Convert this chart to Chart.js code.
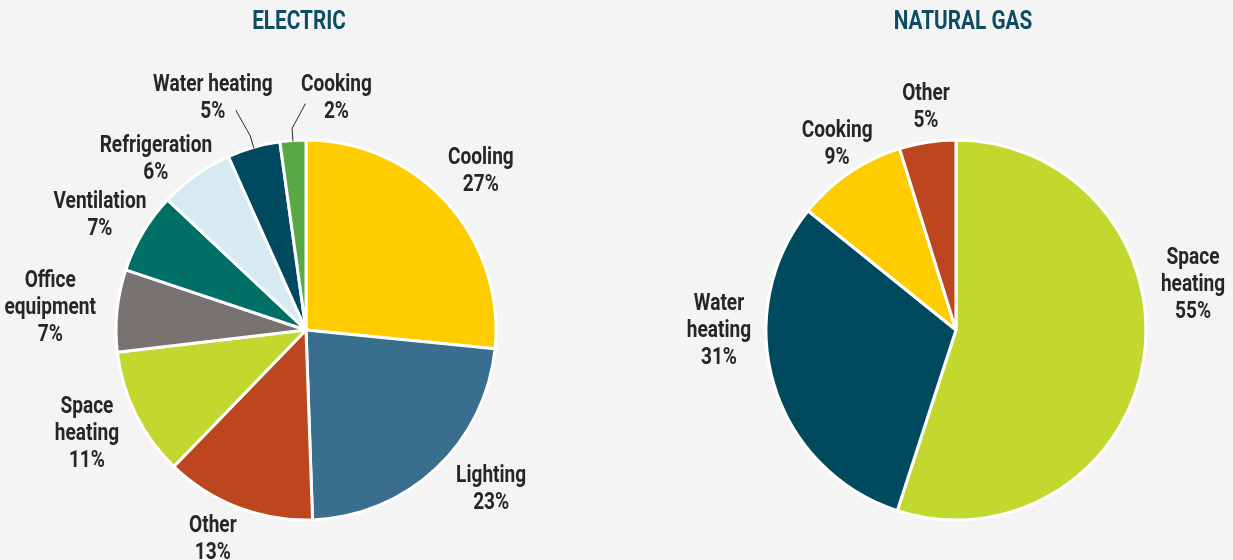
<!DOCTYPE html>
<html>
<head>
<meta charset="utf-8">
<script src="https://cdn.jsdelivr.net/npm/chart.js@4"></script>
<style>
    body { margin: 0; background: #f4f4f4; width: 1233px; height: 560px; overflow: hidden; position: relative; }
    .box { position: absolute; top: 0; height: 560px; }
</style>
</head>
<body>
<div class="box" style="left:0;width:612px"><canvas id="electricChart"></canvas></div>
<div class="box" style="left:680px;width:552px"><canvas id="gasChart"></canvas></div>
<script>
// Electric end uses (share of consumption, %)
const electricCategories = ["Cooling", "Lighting", "Other", ["Space", "heating"], ["Office", "equipment"],
    "Ventilation", "Refrigeration", "Water heating", "Cooking"];
const electricShares = [26.6, 22.9, 12.8, 10.9, 7.0, 6.9, 6.3, 4.5, 2.2];

// Natural gas end uses (share of consumption, %)
const gasCategories = [["Space", "heating"], ["Water", "heating"], "Cooking", "Other"];
const gasShares = [55, 30.8, 9.4, 4.8];

const electricColors = ["#ffcc00", "#3a6e8f", "#bd461e", "#c3d82e", "#787371",
    "#006f66", "#d5ebf1", "#004a60", "#58a846"];
const gasColors = ["#c3d82e", "#004a60", "#ffcc00", "#bd461e"];

const FONT = "Roboto, 'Liberation Sans', sans-serif";
const SQUEEZE = 0.83; // no condensed face installed, so narrow the glyphs

function narrowText(ctx, text, x, y) {
    ctx.save();
    ctx.translate(x, y);
    ctx.scale(SQUEEZE, 1);
    ctx.fillText(text, 0, 0);
    ctx.restore();
}

// title plus labels placed outside each slice, along its middle angle
const sliceLabels = {
    id: "sliceLabels",
    afterDatasetsDraw(chart, args, opts) {
        const ctx = chart.ctx;
        const arcs = chart.getDatasetMeta(0).data;
        const labels = chart.data.labels;
        const values = chart.data.datasets[0].data;
        ctx.save();
        ctx.textAlign = "center";
        ctx.textBaseline = "middle";

        ctx.font = "bold 25px " + FONT;
        ctx.fillStyle = "#0d4c63";
        narrowText(ctx, opts.title, chart.width / 2 + opts.titleShift, 23);

        ctx.font = "bold 23px " + FONT;
        ctx.fillStyle = "#262626";
        ctx.strokeStyle = "#262626";
        ctx.lineWidth = 1;
        arcs.forEach((arc, i) => {
            const mid = (arc.startAngle + arc.endAngle) / 2;
            const nudge = opts.nudges[i] || [0, 0];
            const x = arc.x + Math.cos(mid) * opts.distance + nudge[0];
            const y = arc.y + Math.sin(mid) * opts.distance + nudge[1];
            const lines = [].concat(labels[i], Math.round(values[i]) + "%");
            const top = y - (lines.length - 1) * opts.lineHeight / 2;
            lines.forEach((t, k) => narrowText(ctx, t, x, top + k * opts.lineHeight + 3));

            const lead = opts.leaders[i];
            if (lead) {
                const r = arc.outerRadius;
                ctx.beginPath();
                ctx.moveTo(x + lead[0], y + lead[1]);
                ctx.lineTo(arc.x + Math.cos(mid) * (r + 12), arc.y + Math.sin(mid) * (r + 12));
                ctx.lineTo(arc.x + Math.cos(mid) * (r - 1), arc.y + Math.sin(mid) * (r - 1));
                ctx.stroke();
            }
        });
        ctx.restore();
    }
};

function makePie(id, title, titleShift, categories, shares, colors, nudges, leaders) {
    return new Chart(document.getElementById(id), {
        type: "pie",
        data: {
            labels: categories,
            datasets: [{
                data: shares,
                backgroundColor: colors,
                borderColor: "#ffffff",
                borderWidth: 3,
                hoverOffset: 0,
                radius: 190
            }]
        },
        options: {
            responsive: true,
            maintainAspectRatio: false,
            animation: false,
            events: [],
            layout: { padding: { top: 100 } },
            plugins: {
                legend: { display: false },
                tooltip: { enabled: false },
                title: { display: false },
                sliceLabels: {
                    title: title, titleShift: titleShift,
                    distance: 240, lineHeight: 27, nudges: nudges, leaders: leaders
                }
            }
        },
        plugins: [sliceLabels]
    });
}

makePie("electricChart", "ELECTRIC", -7, electricCategories, electricShares, electricColors,
    [[-3, 0], [21, -18], [-7, -17], [-4, -5], [-17, 0], [0, 6], [-11, 22], [-27, -4], [47, 5]],
    { 7: [23, 15], 8: [-31, 8] });

makePie("gasChart", "NATURAL GAS", 7, gasCategories, gasShares, gasColors,
    [[0, -85], [-7, -70], [16, 10], [6, 12]],
    {});
</script>
</body>
</html>
